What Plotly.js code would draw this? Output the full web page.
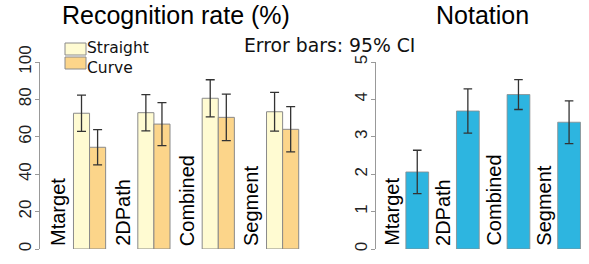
<!DOCTYPE html>
<html>
<head>
<meta charset="utf-8">
<script src="https://cdn.plot.ly/plotly-3.0.1.min.js"></script>
<style>html,body{margin:0;padding:0;background:#fff}#chart{width:589px;height:264px}</style>
</head>
<body>
<div id="chart"></div>
<script>
// ---- data ----
var categories = ["Mtarget", "2DPath", "Combined", "Segment"];
var straightRate = [72.6, 72.9, 80.6, 73.4];
var straightCI = [9.7, 9.7, 9.9, 10.4];
var curveRate = [54.4, 66.8, 70.4, 64.0];
var curveCI = [9.4, 11.5, 12.4, 12.1];
var notation = [2.06, 3.69, 4.13, 3.39];
var notationCI = [0.58, 0.59, 0.40, 0.57];
var rateTicks = [0, 20, 40, 60, 80, 100];
var notationTicks = [0, 1, 2, 3, 4, 5];

// ---- style ----
var W = 589, H = 264, T = 62, B = 15;
var PH = H - T - B;
function px(x) { return x / W; }
function py(y) { return (H - B - y) / PH; }
var cStraight = "#FFFBD2", cCurve = "#FCD58A", cBlue = "#2DB5E0";
var outline = {color: "#8a8a8a", width: 1};
var errStyle = {color: "#333333", thickness: 1.3, width: 4.5};
var sans = "Liberation Sans, Arial, sans-serif";
var dv = "DejaVu Sans, sans-serif";
var tickFont = {family: "Liberation Sans Narrow, Liberation Sans, Arial", size: 17, color: "#222"};

var traces = [
  {type: "bar", x: categories, y: straightRate, xaxis: "x", yaxis: "y",
   width: 0.25, offset: 0, marker: {color: cStraight, line: outline},
   error_y: Object.assign({type: "data", array: straightCI, visible: true}, errStyle),
   name: "Straight", showlegend: false, hoverinfo: "none"},
  {type: "bar", x: categories, y: curveRate, xaxis: "x", yaxis: "y",
   width: 0.25, offset: 0.25, marker: {color: cCurve, line: outline},
   error_y: Object.assign({type: "data", array: curveCI, visible: true}, errStyle),
   name: "Curve", showlegend: false, hoverinfo: "none"},
  {type: "bar", x: categories, y: notation, xaxis: "x2", yaxis: "y2",
   width: 0.45, offset: 0, marker: {color: cBlue, line: {color: "#8a8a8a", width: 0.8}},
   error_y: Object.assign({type: "data", array: notationCI, visible: true}, errStyle, {width: 4.3}),
   name: "Notation", showlegend: false, hoverinfo: "none"}
];

var annotations = [];
categories.forEach(function (c) {
  annotations.push({xref: "x", yref: "y", x: c, y: 0, xshift: -15.5, yshift: 1,
    text: c, textangle: -90, showarrow: false, xanchor: "center", yanchor: "bottom",
    font: {family: sans, size: 20, color: "#000"}});
  annotations.push({xref: "x2", yref: "y2", x: c, y: 0, xshift: -14, yshift: 1,
    text: c, textangle: -90, showarrow: false, xanchor: "center", yanchor: "bottom",
    font: {family: sans, size: 20, color: "#000"}});
});
annotations.push({xref: "paper", yref: "paper", x: px(175.5), y: py(15.5), text: "Recognition rate (%)",
  showarrow: false, xanchor: "center", yanchor: "middle", font: {family: sans, size: 25, color: "#000"}});
annotations.push({xref: "paper", yref: "paper", x: px(482.5), y: py(15.5), text: "Notation",
  showarrow: false, xanchor: "center", yanchor: "middle", font: {family: sans, size: 25, color: "#000"}});
annotations.push({xref: "paper", yref: "paper", x: px(329), y: py(45), text: "Error bars: 95% CI",
  showarrow: false, xanchor: "center", yanchor: "middle", font: {family: dv, size: 18.8, color: "#111"}});
annotations.push({xref: "paper", yref: "paper", x: px(86), y: py(48.5), text: "Straight",
  showarrow: false, xanchor: "left", yanchor: "middle", borderpad: 0, font: {family: dv, size: 15.5, color: "#111"}});
annotations.push({xref: "paper", yref: "paper", x: px(86), y: py(67.5), text: "Curve",
  showarrow: false, xanchor: "left", yanchor: "middle", borderpad: 0, font: {family: dv, size: 15.5, color: "#111"}});

var shapes = [
  {type: "rect", xref: "paper", yref: "paper", x0: px(65), x1: px(86), y0: py(43), y1: py(55),
   fillcolor: cStraight, line: {color: "#8a8a8a", width: 1}},
  {type: "rect", xref: "paper", yref: "paper", x0: px(65), x1: px(86), y0: py(57), y1: py(69),
   fillcolor: cCurve, line: {color: "#8a8a8a", width: 1}}
];

var yCommon = {showline: true, linecolor: "#999", linewidth: 1, ticks: "outside", ticklen: 4,
  tickcolor: "#999", tickangle: -90, showgrid: false, zeroline: false, tickfont: tickFont,
  ticklabelstandoff: -3, fixedrange: true};

var layout = {
  width: W, height: H, margin: {l: 0, r: 0, t: T, b: B, pad: 0},
  paper_bgcolor: "#fff", plot_bgcolor: "rgba(0,0,0,0)",
  barmode: "overlay", showlegend: false,
  xaxis: {domain: [px(40), px(300)], range: [-0.52, 3.52], visible: false, type: "category"},
  yaxis: Object.assign({anchor: "x", range: [0, 100], tickvals: rateTicks, ticktext: rateTicks.map(String)}, yCommon),
  xaxis2: {domain: [px(376), px(583)], range: [-0.59, 3.5], visible: false, type: "category"},
  yaxis2: Object.assign({anchor: "x2", range: [0, 5], tickvals: notationTicks, ticktext: notationTicks.map(String)}, yCommon),
  annotations: annotations,
  shapes: shapes
};

Plotly.newPlot("chart", traces, layout, {displayModeBar: false, staticPlot: true});
</script>
</body>
</html>
